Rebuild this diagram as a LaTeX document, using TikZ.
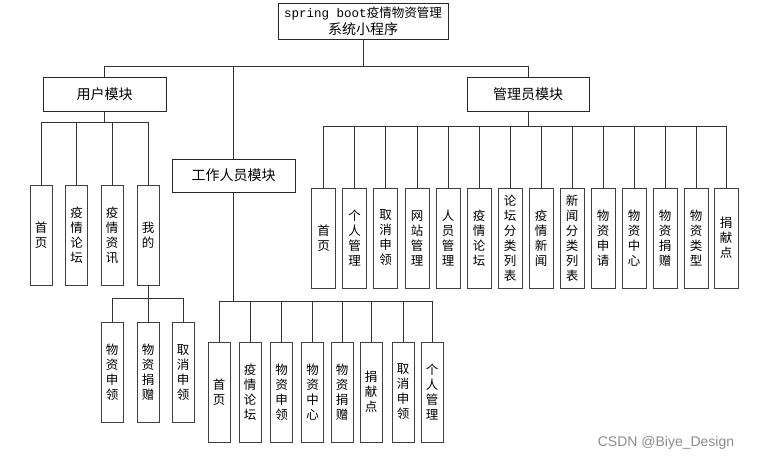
\documentclass[tikz,border=0pt]{standalone}
\usepackage{fontspec}
\setmainfont{Noto Sans CJK SC}
\newfontfamily\codefont{Liberation Mono}
\newfontfamily\markfont{Liberation Sans}
\usepackage{tikz}

\begin{document}
\begin{tikzpicture}[x=1pt, y=-1pt]

        % 1. Page size and styles
        \useasboundingbox (0,0) rectangle (757,461);
        \tikzset{
            modbox/.style={draw=black!85, line width=1pt, minimum height=34pt, inner sep=0pt, font=\fontsize{14}{16}\selectfont},
            leafbox/.style={draw=black!75, line width=1pt, minimum width=23pt, minimum height=100pt, inner sep=0pt, align=center, font=\fontsize{12.5}{15}\selectfont},
            link/.style={draw=black!80, line width=1pt}
        }

        % 2. Root and the three modules
        \node[modbox, minimum width=170pt, minimum height=36pt, align=center, font=\fontsize{12.5}{17}\selectfont] (root) at (363,21)
            {{\codefont spring boot}疫情物资管理\\{\fontsize{14}{17}\selectfont 系统小程序}};
        \node[modbox, minimum width=123pt] (user) at (104.5,94) {用户模块};
        \node[modbox, minimum width=122pt] (admin) at (528,94) {管理员模块};
        \node[modbox, minimum width=123pt, minimum height=33pt] (worker) at (233.5,175.5) {工作人员模块};

        % Junction points of the buses
        \coordinate (topbus) at (363,66);
        \coordinate (userbus) at (104.5,122);
        \coordinate (adminbus) at (528,126);
        \coordinate (workerbus) at (233.5,301);

        \draw[link] (root) -- (topbus);
        \draw[link] (topbus) -| (user);
        \draw[link] (topbus) -| (admin);
        \draw[link] (topbus) -| (worker);

        % 3. Children of the user module
        \draw[link] (user) -- (userbus);
        \foreach \x/\t [count=\i] in {41/首\\页, 76.5/疫\\情\\论\\坛, 112/疫\\情\\资\\讯, 148/我\\的} {
            \node[leafbox, minimum width=22pt] (u\i) at (\x,235.5) {\t};
            \draw[link] (userbus) -| (u\i);
        }

        % Children of the "mine" page
        \coordinate (minebus) at (148,298);
        \draw[link] (u4) -- (minebus);
        \foreach \x/\t [count=\i] in {112/物\\资\\申\\领, 148/物\\资\\捐\\赠, 183/取\\消\\申\\领} {
            \node[leafbox, minimum width=22pt] (m\i) at (\x,372.5) {\t};
            \draw[link] (minebus) -| (m\i);
        }

        % 4. Children of the worker module
        \draw[link] (worker) -- (workerbus);
        \foreach \x/\t [count=\i] in {219/首\\页, 250/疫\\情\\论\\坛, 281.5/物\\资\\申\\领, 312.5/物\\资\\中\\心,
                                      342/物\\资\\捐\\赠, 371/捐\\献\\点, 403/取\\消\\申\\领, 432/个\\人\\管\\理} {
            \node[leafbox, minimum width=22pt] (w\i) at (\x,392) {\t};
            \draw[link] (workerbus) -| (w\i);
        }

        % 5. Children of the admin module
        \draw[link] (admin) -- (adminbus);
        \foreach \x/\t [count=\i] in {323.7/首\\页, 354.7/个\\人\\管\\理, 385.7/取\\消\\申\\领, 417/网\\站\\管\\理,
                                      448/人\\员\\管\\理, 479/疫\\情\\论\\坛, 510/论\\坛\\分\\类\\列\\表, 541/疫\\情\\新\\闻,
                                      572/新\\闻\\分\\类\\列\\表, 603/物\\资\\申\\请, 634/物\\资\\中\\心, 665/物\\资\\捐\\赠,
                                      696/物\\资\\类\\型, 726/捐\\献\\点} {
            \node[leafbox, minimum width=24pt] (a\i) at (\x,238) {\t};
            \draw[link] (adminbus) -| (a\i);
        }

        % 6. Watermark
        \node[text=black!45, font=\markfont\fontsize{14}{16}\selectfont] (mark) at (666,443) {CSDN @Biye\_Design};

\end{tikzpicture}
\end{document}
